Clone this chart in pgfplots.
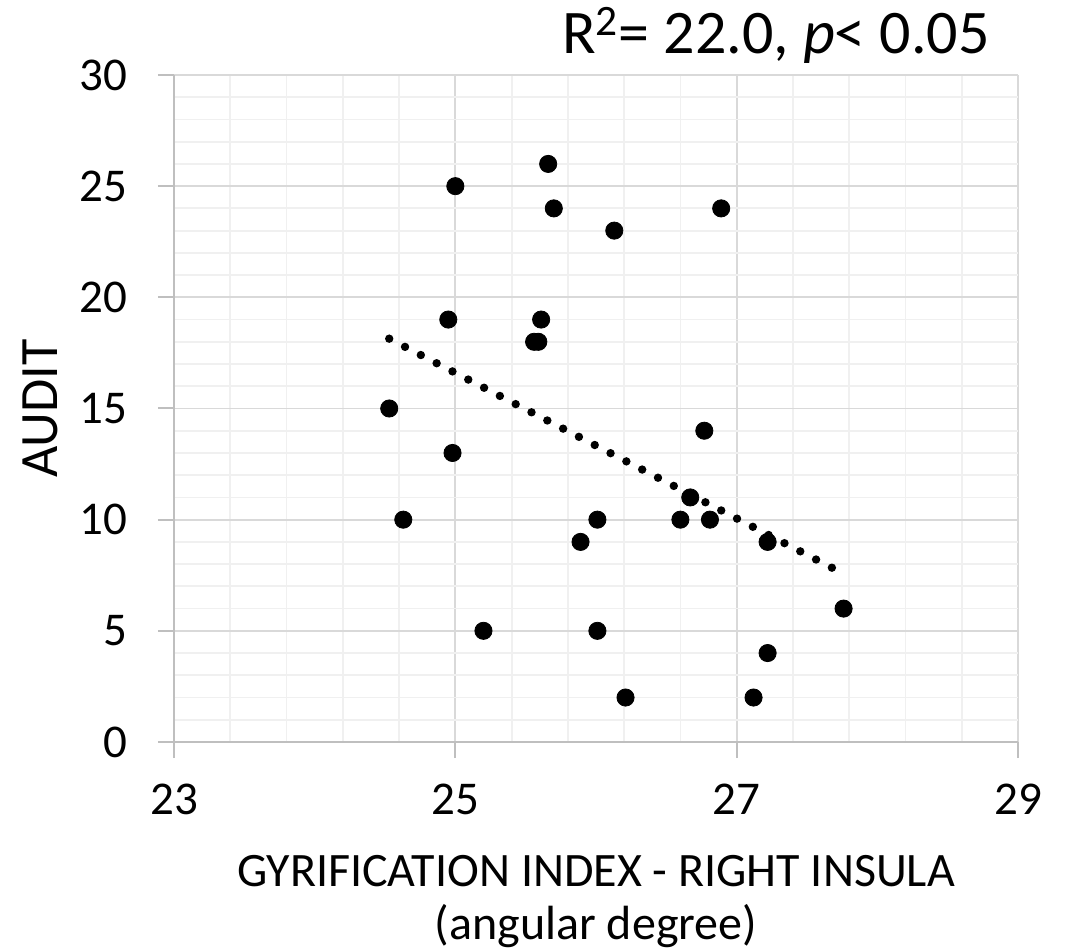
\documentclass[border=0pt]{standalone}
\usepackage{fontspec}
\setmainfont{Carlito}
\usepackage{pgfplots}
\pgfplotsset{compat=1.18}
\definecolor{majgrid}{RGB}{217,217,217}
\definecolor{mingrid}{RGB}{240,240,240}
\definecolor{axline}{RGB}{191,191,191}
\begin{document}
\begin{tikzpicture}
\path[use as bounding box] (-87pt,-104.5pt) rectangle (447pt,371pt);
\begin{axis}[
  at={(0,0)}, anchor=south west,
  scale only axis, width=422pt, height=333.5pt,
  xmin=23, xmax=29, ymin=0, ymax=30,
  xtick={23,25,27,29}, ytick={0,5,...,30},
  minor x tick num=4, minor y tick num=4,
  grid=both,
  major grid style={majgrid, line width=0.9pt},
  minor grid style={mingrid, line width=0.9pt},
  axis x line*=bottom, axis y line*=left,
  axis line style={axline, line width=1pt, -},
  tick align=outside,
  major tick length=8pt, minor tick length=0pt,
  tick style={axline, line width=1pt},
  /pgf/number format/assume math mode=true,
  ticklabel style={font=\fontsize{23.5}{28}\selectfont, inner sep=0pt},
  yticklabel style={anchor=east, xshift=-15pt},
  xticklabel style={anchor=north, yshift=-13pt},
  xlabel={GYRIFICATION INDEX - RIGHT INSULA\\(angular degree)},
  xlabel style={align=center, font=\fontsize{24}{26.5}\selectfont, inner sep=0pt,
    at={(axis description cs:0.5,-0.1694)}, anchor=north},
  ylabel={AUDIT},
  ylabel style={font=\fontsize{27}{30}\selectfont, inner sep=0pt,
    at={(axis description cs:-0.1374,0.5)}, anchor=south, rotate=0},
  title={R\textsuperscript{2}= 22.0, \textit{p}< 0.05},
  title style={font=\fontsize{31}{36}\selectfont, inner sep=0pt,
    at={(axis description cs:0.967,1)}, anchor=base east, yshift=4.5pt},
  clip=false,
]
\addplot[only marks, mark=*, mark size=4.3pt, black, mark options={fill=black, draw=black}] coordinates {
(25.00,25) (25.66,26) (25.70,24) (26.13,23) (26.89,24)
(24.95,19) (25.61,19) (25.56,18) (25.59,18)
(24.53,15) (24.98,13) (26.77,14)
(24.63,10) (26.01,10) (25.89,9) (26.60,10) (26.67,11) (26.81,10) (27.22,9)
(27.76,6) (25.20,5) (26.01,5) (27.22,4) (26.21,2) (27.12,2)
};
\addplot[black, line width=4.2pt, line cap=round, dash pattern=on 0pt off 8.9pt] coordinates {
(24.53,18.14) (27.75,7.60)
};
\end{axis}
\end{tikzpicture}
\end{document}
